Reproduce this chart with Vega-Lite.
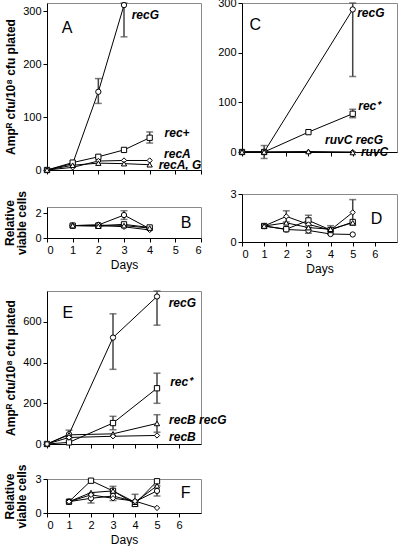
{
"$schema": "https://vega.github.io/schema/vega-lite/v6.json",
"padding": {"left": 3, "top": -4, "right": 0, "bottom": 0},
"config": {
  "font": "Liberation Sans",
  "view": {"stroke": "#8a8a8a", "strokeWidth": 1},
  "axis": {"grid": false, "domainColor": "#000", "tickColor": "#000", "labelColor": "#000", "titleColor": "#000", "labelFontSize": 11, "titleFontSize": 12, "tickSize": 4, "labelPadding": 2, "titlePadding": 4, "labelFont": "Liberation Sans", "titleFont": "Liberation Sans"},
  "text": {"color": "#000"}
},
"datasets": {
  "pts": [
    {"panel":"A","strain":"recG","day":0,"v":0},
    {"panel":"A","strain":"recG","day":1,"v":12},
    {"panel":"A","strain":"recG","day":2,"v":148,"lo":126,"hi":173},
    {"panel":"A","strain":"recG","day":3,"v":312,"lo":252,"hi":316},
    {"panel":"A","strain":"rec+","day":0,"v":0},
    {"panel":"A","strain":"rec+","day":1,"v":14},
    {"panel":"A","strain":"rec+","day":2,"v":25},
    {"panel":"A","strain":"rec+","day":3,"v":38},
    {"panel":"A","strain":"rec+","day":4,"v":61,"lo":51,"hi":72},
    {"panel":"A","strain":"recA","day":0,"v":0},
    {"panel":"A","strain":"recA","day":1,"v":5},
    {"panel":"A","strain":"recA","day":2,"v":17},
    {"panel":"A","strain":"recA","day":3,"v":18},
    {"panel":"A","strain":"recA","day":4,"v":18},
    {"panel":"A","strain":"recA recG","day":0,"v":0},
    {"panel":"A","strain":"recA recG","day":1,"v":9},
    {"panel":"A","strain":"recA recG","day":2,"v":13},
    {"panel":"A","strain":"recA recG","day":3,"v":12},
    {"panel":"A","strain":"recA recG","day":4,"v":10},

    {"panel":"B","strain":"recG","day":1,"v":1.0},
    {"panel":"B","strain":"recG","day":2,"v":1.05},
    {"panel":"B","strain":"recG","day":3,"v":1.85,"lo":1.5,"hi":2.2},
    {"panel":"B","strain":"recG","day":4,"v":0.75},
    {"panel":"B","strain":"rec+","day":1,"v":1.0},
    {"panel":"B","strain":"rec+","day":2,"v":1.0},
    {"panel":"B","strain":"rec+","day":3,"v":1.1},
    {"panel":"B","strain":"rec+","day":4,"v":0.85},
    {"panel":"B","strain":"recA","day":1,"v":1.0},
    {"panel":"B","strain":"recA","day":2,"v":1.05},
    {"panel":"B","strain":"recA","day":3,"v":0.9},
    {"panel":"B","strain":"recA","day":4,"v":0.65},
    {"panel":"B","strain":"recA recG","day":1,"v":1.0},
    {"panel":"B","strain":"recA recG","day":2,"v":0.95},
    {"panel":"B","strain":"recA recG","day":3,"v":1.0},
    {"panel":"B","strain":"recA recG","day":4,"v":0.8},

    {"panel":"C","strain":"recG","day":0,"v":0},
    {"panel":"C","strain":"recG","day":1,"v":0},
    {"panel":"C","strain":"recG","day":5,"v":287,"lo":152,"hi":300},
    {"panel":"C","strain":"rec+","day":0,"v":0},
    {"panel":"C","strain":"rec+","day":1,"v":0,"lo":-13,"hi":13},
    {"panel":"C","strain":"rec+","day":3,"v":40},
    {"panel":"C","strain":"rec+","day":5,"v":77,"lo":69,"hi":86},
    {"panel":"C","strain":"ruvC","day":0,"v":0},
    {"panel":"C","strain":"ruvC","day":1,"v":0},
    {"panel":"C","strain":"ruvC","day":3,"v":0},
    {"panel":"C","strain":"ruvC","day":5,"v":0},
    {"panel":"C","strain":"ruvC recG","day":0,"v":0},
    {"panel":"C","strain":"ruvC recG","day":1,"v":0},
    {"panel":"C","strain":"ruvC recG","day":3,"v":1},
    {"panel":"C","strain":"ruvC recG","day":5,"v":-1},

    {"panel":"D","strain":"recG","day":1,"v":1.0},
    {"panel":"D","strain":"recG","day":2,"v":0.78},
    {"panel":"D","strain":"recG","day":3,"v":0.72,"lo":0.55,"hi":0.9},
    {"panel":"D","strain":"recG","day":4,"v":0.5},
    {"panel":"D","strain":"recG","day":5,"v":0.47},
    {"panel":"D","strain":"rec+","day":1,"v":1.0},
    {"panel":"D","strain":"rec+","day":2,"v":0.8},
    {"panel":"D","strain":"rec+","day":3,"v":1.35,"lo":1.03,"hi":1.67},
    {"panel":"D","strain":"rec+","day":4,"v":0.75,"lo":0.48,"hi":1.02},
    {"panel":"D","strain":"rec+","day":5,"v":1.25},
    {"panel":"D","strain":"ruvC","day":1,"v":1.0},
    {"panel":"D","strain":"ruvC","day":2,"v":1.6,"lo":1.25,"hi":1.95},
    {"panel":"D","strain":"ruvC","day":3,"v":1.1},
    {"panel":"D","strain":"ruvC","day":4,"v":0.75},
    {"panel":"D","strain":"ruvC","day":5,"v":1.85,"lo":1.05,"hi":2.65},
    {"panel":"D","strain":"ruvC recG","day":1,"v":1.0},
    {"panel":"D","strain":"ruvC recG","day":2,"v":1.2},
    {"panel":"D","strain":"ruvC recG","day":3,"v":0.9},
    {"panel":"D","strain":"ruvC recG","day":4,"v":0.8},
    {"panel":"D","strain":"ruvC recG","day":5,"v":1.2},

    {"panel":"E","strain":"recG","day":0,"v":0},
    {"panel":"E","strain":"recG","day":1,"v":48,"lo":28,"hi":68},
    {"panel":"E","strain":"recG","day":3,"v":523,"lo":367,"hi":640},
    {"panel":"E","strain":"recG","day":5,"v":725,"lo":584,"hi":752},
    {"panel":"E","strain":"rec+","day":0,"v":0},
    {"panel":"E","strain":"rec+","day":1,"v":8},
    {"panel":"E","strain":"rec+","day":3,"v":103,"lo":70,"hi":136},
    {"panel":"E","strain":"rec+","day":5,"v":274,"lo":200,"hi":348},
    {"panel":"E","strain":"recB recG","day":0,"v":0},
    {"panel":"E","strain":"recB recG","day":1,"v":45},
    {"panel":"E","strain":"recB recG","day":3,"v":50},
    {"panel":"E","strain":"recB recG","day":5,"v":101,"lo":58,"hi":144},
    {"panel":"E","strain":"recB","day":0,"v":0},
    {"panel":"E","strain":"recB","day":1,"v":32},
    {"panel":"E","strain":"recB","day":3,"v":38},
    {"panel":"E","strain":"recB","day":5,"v":42},

    {"panel":"F","strain":"rec+","day":1,"v":1.0},
    {"panel":"F","strain":"rec+","day":2,"v":2.85},
    {"panel":"F","strain":"rec+","day":3,"v":1.95},
    {"panel":"F","strain":"rec+","day":4,"v":0.8},
    {"panel":"F","strain":"rec+","day":5,"v":2.8},
    {"panel":"F","strain":"recG","day":1,"v":1.0},
    {"panel":"F","strain":"recG","day":2,"v":1.3,"lo":0.88,"hi":1.72},
    {"panel":"F","strain":"recG","day":3,"v":1.5,"lo":1.1,"hi":2.35},
    {"panel":"F","strain":"recG","day":4,"v":1.0,"lo":0.6,"hi":1.65},
    {"panel":"F","strain":"recG","day":5,"v":1.95,"lo":1.5,"hi":2.4},
    {"panel":"F","strain":"recB recG","day":1,"v":1.0},
    {"panel":"F","strain":"recB recG","day":2,"v":1.8},
    {"panel":"F","strain":"recB recG","day":3,"v":1.95},
    {"panel":"F","strain":"recB recG","day":4,"v":0.95},
    {"panel":"F","strain":"recB recG","day":5,"v":2.4},
    {"panel":"F","strain":"recB","day":1,"v":1.0},
    {"panel":"F","strain":"recB","day":2,"v":1.6},
    {"panel":"F","strain":"recB","day":3,"v":1.3},
    {"panel":"F","strain":"recB","day":4,"v":1.05},
    {"panel":"F","strain":"recB","day":5,"v":0.45}
  ],
  "lbl": [
    {"panel":"A","day":3.3,"v":294,"text":"recG"},
    {"panel":"A","day":4.58,"v":70,"text":"rec+"},
    {"panel":"A","day":4.56,"v":30,"text":"recA"},
    {"panel":"A","day":4.35,"v":9,"text":"recA, G"},
    {"panel":"C","day":5.2,"v":280,"text":"recG"},
    {"panel":"C","day":5.25,"v":92,"text":"rec⁺"},
    {"panel":"C","day":3.75,"v":24,"text":"ruvC recG"},
    {"panel":"C","day":5.37,"v":0,"text":"ruvC"},
    {"panel":"E","day":5.53,"v":695,"text":"recG"},
    {"panel":"E","day":5.6,"v":306,"text":"rec⁺"},
    {"panel":"E","day":5.55,"v":119,"text":"recB recG"},
    {"panel":"E","day":5.55,"v":32,"text":"recB"}
  ],
  "let": [
    {"panel":"A","day":0.78,"v":269,"text":"A"},
    {"panel":"B","day":5.42,"v":1.2,"text":"B"},
    {"panel":"C","day":0.6,"v":256,"text":"C"},
    {"panel":"D","day":6.07,"v":1.46,"text":"D"},
    {"panel":"E","day":0.95,"v":643,"text":"E"},
    {"panel":"F","day":6.3,"v":1.77,"text":"F"}
  ]
},
"spacing": -10,
"hconcat": [
  {"spacing": 18, "vconcat": [
    {"bounds": "flush", "spacing": 37, "vconcat": [
      {"width": 154, "height": 167,
       "encoding": {"x": {"field": "day", "type": "quantitative", "scale": {"domain": [0, 6], "nice": false}, "axis": {"values": [0,1,2,3,4,5,6], "labels": false, "title": null}}},
       "layer": [
        {"data": {"name": "pts"}, "transform": [{"filter": "datum.panel==='A' && datum.lo != null"}],
         "mark": {"type": "errorbar", "ticks": true, "size": 7, "thickness": 1.5, "color": "#444"},
         "encoding": {"y": {"field": "lo", "type": "quantitative", "scale": {"domain": [0, 316], "nice": false}, "axis": {"values": [0,100,200,300], "title": "Ampᴿ cfu/10⁸ cfu plated", "titleFontWeight": "bold", "titlePadding": 5}}, "y2": {"field": "hi"}}},
        {"data": {"name": "pts"}, "transform": [{"filter": "datum.panel==='A'"}],
         "mark": {"type": "line", "color": "#000", "strokeWidth": 1},
         "encoding": {"y": {"field": "v", "type": "quantitative", "axis": {"values": [0,100,200,300], "title": "Ampᴿ cfu/10⁸ cfu plated", "titleFontWeight": "bold", "titlePadding": 5}}, "detail": {"field": "strain"}, "order": {"field": "day"}}},
        {"data": {"name": "pts"}, "transform": [{"filter": "datum.panel==='A'"}],
         "mark": {"type": "point", "filled": true, "color": "#fff", "stroke": "#000", "strokeWidth": 1, "size": 28, "opacity": 1},
         "encoding": {"y": {"field": "v", "type": "quantitative"}, "shape": {"field": "strain", "legend": null, "scale": {"domain": ["recG","rec+","recA","recA recG","ruvC","ruvC recG","recB","recB recG"], "range": ["circle","square","diamond","triangle-up","diamond","triangle-up","diamond","triangle-up"]}}}},
        {"data": {"name": "lbl"}, "transform": [{"filter": "datum.panel==='A'"}],
         "mark": {"type": "text", "align": "left", "baseline": "middle", "fontSize": 12, "fontWeight": "bold", "fontStyle": "italic"},
         "encoding": {"y": {"field": "v", "type": "quantitative"}, "text": {"field": "text"}}},
        {"data": {"name": "let"}, "transform": [{"filter": "datum.panel==='A'"}],
         "mark": {"type": "text", "align": "center", "baseline": "middle", "fontSize": 16},
         "encoding": {"y": {"field": "v", "type": "quantitative"}, "text": {"field": "text"}}}
       ]},
      {"width": 154, "height": 31,
       "encoding": {"x": {"field": "day", "type": "quantitative", "scale": {"domain": [0, 6], "nice": false}, "axis": {"values": [0,1,2,3,4,5,6], "title": "Days", "titleFontWeight": "normal"}}},
       "layer": [
        {"data": {"name": "pts"}, "transform": [{"filter": "datum.panel==='B' && datum.lo != null"}],
         "mark": {"type": "errorbar", "ticks": true, "size": 7, "thickness": 1.5, "color": "#444"},
         "encoding": {"y": {"field": "lo", "type": "quantitative", "scale": {"domain": [0, 2.5], "nice": false}, "axis": {"values": [0,1,2], "title": ["Relative", "viable cells"], "titleFontWeight": "bold", "titlePadding": 6, "titleLineHeight": 12}}, "y2": {"field": "hi"}}},
        {"data": {"name": "pts"}, "transform": [{"filter": "datum.panel==='B'"}],
         "mark": {"type": "line", "color": "#000", "strokeWidth": 1},
         "encoding": {"y": {"field": "v", "type": "quantitative", "axis": {"values": [0,1,2], "title": ["Relative", "viable cells"], "titleFontWeight": "bold", "titlePadding": 6, "titleLineHeight": 12}}, "detail": {"field": "strain"}, "order": {"field": "day"}}},
        {"data": {"name": "pts"}, "transform": [{"filter": "datum.panel==='B'"}],
         "mark": {"type": "point", "filled": true, "color": "#fff", "stroke": "#000", "strokeWidth": 1, "size": 28, "opacity": 1},
         "encoding": {"y": {"field": "v", "type": "quantitative"}, "shape": {"field": "strain", "legend": null, "scale": {"domain": ["recG","rec+","recA","recA recG","ruvC","ruvC recG","recB","recB recG"], "range": ["circle","square","diamond","triangle-up","diamond","triangle-up","diamond","triangle-up"]}}}},
        {"data": {"name": "let"}, "transform": [{"filter": "datum.panel==='B'"}],
         "mark": {"type": "text", "align": "center", "baseline": "middle", "fontSize": 16},
         "encoding": {"y": {"field": "v", "type": "quantitative"}, "text": {"field": "text"}}}
       ]}
    ]},
    {"bounds": "flush", "spacing": 35, "vconcat": [
      {"width": 154, "height": 153,
       "encoding": {"x": {"field": "day", "type": "quantitative", "scale": {"domain": [0, 7], "nice": false}, "axis": {"values": [0,1,2,3,4,5,6], "labels": false, "title": null}}},
       "layer": [
        {"data": {"name": "pts"}, "transform": [{"filter": "datum.panel==='E' && datum.lo != null"}],
         "mark": {"type": "errorbar", "ticks": true, "size": 7, "thickness": 1.5, "color": "#444"},
         "encoding": {"y": {"field": "lo", "type": "quantitative", "scale": {"domain": [0, 752], "nice": false}, "axis": {"values": [0,200,400,600], "title": "Ampᴿ cfu/10⁸ cfu plated", "titleFontWeight": "bold", "titlePadding": 5}}, "y2": {"field": "hi"}}},
        {"data": {"name": "pts"}, "transform": [{"filter": "datum.panel==='E'"}],
         "mark": {"type": "line", "color": "#000", "strokeWidth": 1},
         "encoding": {"y": {"field": "v", "type": "quantitative", "axis": {"values": [0,200,400,600], "title": "Ampᴿ cfu/10⁸ cfu plated", "titleFontWeight": "bold", "titlePadding": 5}}, "detail": {"field": "strain"}, "order": {"field": "day"}}},
        {"data": {"name": "pts"}, "transform": [{"filter": "datum.panel==='E'"}],
         "mark": {"type": "point", "filled": true, "color": "#fff", "stroke": "#000", "strokeWidth": 1, "size": 28, "opacity": 1},
         "encoding": {"y": {"field": "v", "type": "quantitative"}, "shape": {"field": "strain", "legend": null, "scale": {"domain": ["recG","rec+","recA","recA recG","ruvC","ruvC recG","recB","recB recG"], "range": ["circle","square","diamond","triangle-up","diamond","triangle-up","diamond","triangle-up"]}}}},
        {"data": {"name": "lbl"}, "transform": [{"filter": "datum.panel==='E'"}],
         "mark": {"type": "text", "align": "left", "baseline": "middle", "fontSize": 12, "fontWeight": "bold", "fontStyle": "italic"},
         "encoding": {"y": {"field": "v", "type": "quantitative"}, "text": {"field": "text"}}},
        {"data": {"name": "let"}, "transform": [{"filter": "datum.panel==='E'"}],
         "mark": {"type": "text", "align": "center", "baseline": "middle", "fontSize": 16},
         "encoding": {"y": {"field": "v", "type": "quantitative"}, "text": {"field": "text"}}}
       ]},
      {"width": 154, "height": 34,
       "encoding": {"x": {"field": "day", "type": "quantitative", "scale": {"domain": [0, 7], "nice": false}, "axis": {"values": [0,1,2,3,4,5,6], "title": "Days", "titleFontWeight": "normal"}}},
       "layer": [
        {"data": {"name": "pts"}, "transform": [{"filter": "datum.panel==='F' && datum.lo != null"}],
         "mark": {"type": "errorbar", "ticks": true, "size": 7, "thickness": 1.5, "color": "#444"},
         "encoding": {"y": {"field": "lo", "type": "quantitative", "scale": {"domain": [0, 3], "nice": false}, "axis": {"values": [0,1,2,3], "title": ["Relative", "viable cells"], "titleFontWeight": "bold", "titlePadding": 6, "titleLineHeight": 12}}, "y2": {"field": "hi"}}},
        {"data": {"name": "pts"}, "transform": [{"filter": "datum.panel==='F'"}],
         "mark": {"type": "line", "color": "#000", "strokeWidth": 1},
         "encoding": {"y": {"field": "v", "type": "quantitative", "axis": {"values": [0,1,2,3], "title": ["Relative", "viable cells"], "titleFontWeight": "bold", "titlePadding": 6, "titleLineHeight": 12}}, "detail": {"field": "strain"}, "order": {"field": "day"}}},
        {"data": {"name": "pts"}, "transform": [{"filter": "datum.panel==='F'"}],
         "mark": {"type": "point", "filled": true, "color": "#fff", "stroke": "#000", "strokeWidth": 1, "size": 28, "opacity": 1},
         "encoding": {"y": {"field": "v", "type": "quantitative"}, "shape": {"field": "strain", "legend": null, "scale": {"domain": ["recG","rec+","recA","recA recG","ruvC","ruvC recG","recB","recB recG"], "range": ["circle","square","diamond","triangle-up","diamond","triangle-up","diamond","triangle-up"]}}}},
        {"data": {"name": "let"}, "transform": [{"filter": "datum.panel==='F'"}],
         "mark": {"type": "text", "align": "center", "baseline": "middle", "fontSize": 16},
         "encoding": {"y": {"field": "v", "type": "quantitative"}, "text": {"field": "text"}}}
       ]}
    ]}
  ]},
  {"bounds": "flush", "spacing": 42, "vconcat": [
    {"width": 155, "height": 149,
     "encoding": {"x": {"field": "day", "type": "quantitative", "scale": {"domain": [0, 7], "nice": false}, "axis": {"values": [0,1,2,3,4,5,6], "labels": false, "title": null}}},
     "layer": [
      {"data": {"name": "pts"}, "transform": [{"filter": "datum.panel==='C' && datum.lo != null"}],
       "mark": {"type": "errorbar", "ticks": true, "size": 7, "thickness": 1.5, "color": "#444"},
       "encoding": {"y": {"field": "lo", "type": "quantitative", "scale": {"domain": [0, 300], "nice": false}, "axis": {"values": [0,100,200,300], "title": null}}, "y2": {"field": "hi"}}},
      {"data": {"name": "pts"}, "transform": [{"filter": "datum.panel==='C'"}],
       "mark": {"type": "line", "color": "#000", "strokeWidth": 1},
       "encoding": {"y": {"field": "v", "type": "quantitative", "axis": {"values": [0,100,200,300], "title": null}}, "detail": {"field": "strain"}, "order": {"field": "day"}}},
      {"data": {"name": "pts"}, "transform": [{"filter": "datum.panel==='C'"}],
       "mark": {"type": "point", "filled": true, "color": "#fff", "stroke": "#000", "strokeWidth": 1, "size": 28, "opacity": 1},
       "encoding": {"y": {"field": "v", "type": "quantitative"}, "shape": {"field": "strain", "legend": null, "scale": {"domain": ["recG","rec+","recA","recA recG","ruvC","ruvC recG","recB","recB recG"], "range": ["circle","square","diamond","triangle-up","diamond","triangle-up","diamond","triangle-up"]}}}},
      {"data": {"name": "lbl"}, "transform": [{"filter": "datum.panel==='C'"}],
       "mark": {"type": "text", "align": "left", "baseline": "middle", "fontSize": 12, "fontWeight": "bold", "fontStyle": "italic"},
       "encoding": {"y": {"field": "v", "type": "quantitative"}, "text": {"field": "text"}}},
      {"data": {"name": "let"}, "transform": [{"filter": "datum.panel==='C'"}],
       "mark": {"type": "text", "align": "center", "baseline": "middle", "fontSize": 16},
       "encoding": {"y": {"field": "v", "type": "quantitative"}, "text": {"field": "text"}}}
     ]},
    {"width": 155, "height": 48,
     "encoding": {"x": {"field": "day", "type": "quantitative", "scale": {"domain": [0, 7], "nice": false}, "axis": {"values": [0,1,2,3,4,5,6], "title": "Days", "titleFontWeight": "normal"}}},
     "layer": [
      {"data": {"name": "pts"}, "transform": [{"filter": "datum.panel==='D' && datum.lo != null"}],
       "mark": {"type": "errorbar", "ticks": true, "size": 7, "thickness": 1.5, "color": "#444"},
       "encoding": {"y": {"field": "lo", "type": "quantitative", "scale": {"domain": [0, 3], "nice": false}, "axis": {"values": [0,1,2,3], "title": null}}, "y2": {"field": "hi"}}},
      {"data": {"name": "pts"}, "transform": [{"filter": "datum.panel==='D'"}],
       "mark": {"type": "line", "color": "#000", "strokeWidth": 1},
       "encoding": {"y": {"field": "v", "type": "quantitative", "axis": {"values": [0,1,2,3], "title": null}}, "detail": {"field": "strain"}, "order": {"field": "day"}}},
      {"data": {"name": "pts"}, "transform": [{"filter": "datum.panel==='D'"}],
       "mark": {"type": "point", "filled": true, "color": "#fff", "stroke": "#000", "strokeWidth": 1, "size": 28, "opacity": 1},
       "encoding": {"y": {"field": "v", "type": "quantitative"}, "shape": {"field": "strain", "legend": null, "scale": {"domain": ["recG","rec+","recA","recA recG","ruvC","ruvC recG","recB","recB recG"], "range": ["circle","square","diamond","triangle-up","diamond","triangle-up","diamond","triangle-up"]}}}},
      {"data": {"name": "let"}, "transform": [{"filter": "datum.panel==='D'"}],
       "mark": {"type": "text", "align": "center", "baseline": "middle", "fontSize": 16},
       "encoding": {"y": {"field": "v", "type": "quantitative"}, "text": {"field": "text"}}}
     ]}
  ]}
]
}
